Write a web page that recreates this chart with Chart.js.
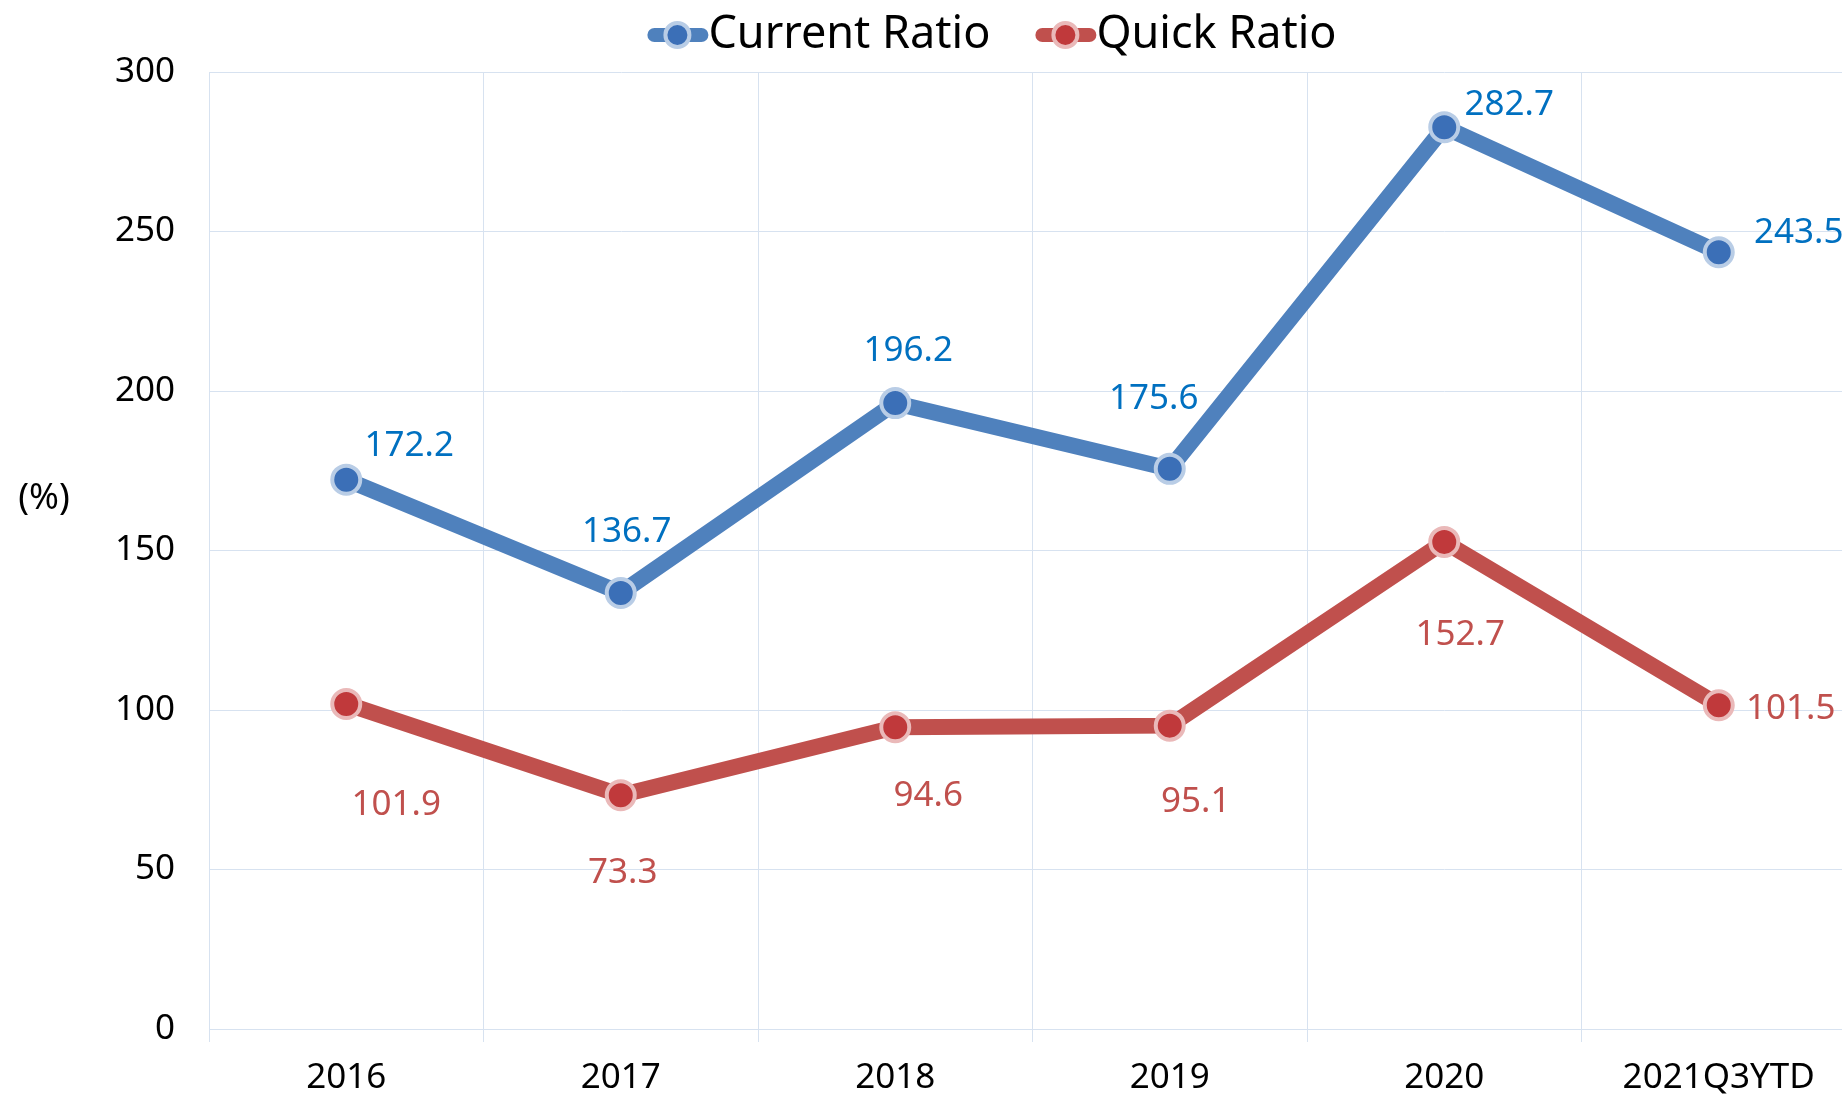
<!DOCTYPE html>
<html>
<head>
<meta charset="utf-8">
<script src="https://cdn.jsdelivr.net/npm/chart.js"></script>
<style>
    html, body {
        margin: 0;
        padding: 0;
        background: #fff;
        overflow: hidden;
    }
    .wrap {
        width: 1856px;
        height: 1097px;
    }
</style>
</head>
<body>
<div class="wrap">
    <canvas id="ratioChart" width="1856" height="1097"></canvas>
</div>
<script>
// data
const years = ["2016", "2017", "2018", "2019", "2020", "2021Q3YTD"];
const currentRatio = [172.2, 136.7, 196.2, 175.6, 282.7, 243.5];
const quickRatio = [101.9, 73.3, 94.6, 95.1, 152.7, 101.5];
const yTicks = [0, 50, 100, 150, 200, 250, 300];

const gridColor = "#d7e2f0";
const font = "'Noto Sans', 'Open Sans', sans-serif";

// where each value label sits relative to its point
const labelShift = [
    [[63, -37], [6, -64], [13, -55], [-16, -73], [65, -25], [80, -22]],
    [[50, 98], [2, 75], [33, 66], [26, 73], [16, 90], [72, 1]]
];
const labelColors = ["#0070c0", "#c0504d"];

function legendItem(ctx, x, text, line, fill, ring) {
    const y = 35;
    ctx.save();
    ctx.strokeStyle = line;
    ctx.lineWidth = 14;
    ctx.lineCap = "round";
    ctx.beginPath();
    ctx.moveTo(x + 7, y);
    ctx.lineTo(x + 54, y);
    ctx.stroke();
    ctx.beginPath();
    ctx.arc(x + 30, y, 12, 0, Math.PI * 2);
    ctx.fillStyle = fill;
    ctx.fill();
    ctx.lineWidth = 4;
    ctx.strokeStyle = ring;
    ctx.stroke();
    ctx.fillStyle = "#000";
    ctx.font = "45px " + font;
    ctx.textBaseline = "alphabetic";
    ctx.textAlign = "left";
    ctx.fillText(text, x + 61, 48);
    ctx.restore();
}

const extras = {
    id: "extras",
    afterDatasetsDraw(chart) {
        const ctx = chart.ctx;
        ctx.save();
        ctx.font = "35px " + font;
        ctx.textAlign = "center";
        ctx.textBaseline = "alphabetic";
        chart.data.datasets.forEach(function (ds, i) {
            const meta = chart.getDatasetMeta(i);
            meta.data.forEach(function (pt, j) {
                const s = labelShift[i][j];
                ctx.fillStyle = labelColors[i];
                ctx.fillText(ds.data[j].toFixed(1), pt.x + s[0], pt.y + s[1] + 13);
            });
        });
        ctx.restore();
    },
    afterDraw(chart) {
        const ctx = chart.ctx;
        ctx.save();
        ctx.font = "45px " + font;
        const w1 = ctx.measureText("Current Ratio").width;
        const w2 = ctx.measureText("Quick Ratio").width;
        const total = 61 + w1 + 45 + 61 + w2;
        const start = 992 - total / 2;
        legendItem(ctx, start, "Current Ratio", "#4f81bd", "#3b6fb7", "#b9cde6");
        legendItem(ctx, start + 61 + w1 + 45, "Quick Ratio", "#c0504d", "#c0393b", "#eab9b9");

        // axis title
        ctx.fillStyle = "#000";
        ctx.font = "36px " + font;
        ctx.textAlign = "center";
        ctx.textBaseline = "alphabetic";
        ctx.fillText("(%)", 44, 509);
        ctx.restore();
    }
};

const ctx = document.getElementById("ratioChart");

new Chart(ctx, {
    type: "line",
    data: {
        labels: years,
        datasets: [{
            label: "Current Ratio",
            data: currentRatio,
            borderColor: "#4f81bd",
            borderWidth: 16,
            pointRadius: 14,
            pointBorderWidth: 4,
            pointBackgroundColor: "#3b6fb7",
            pointBorderColor: "#b9cde6",
            tension: 0
        }, {
            label: "Quick Ratio",
            data: quickRatio,
            borderColor: "#c0504d",
            borderWidth: 16,
            pointRadius: 14,
            pointBorderWidth: 4,
            pointBackgroundColor: "#c0393b",
            pointBorderColor: "#eab9b9",
            tension: 0
        }]
    },
    options: {
        responsive: false,
        animation: false,
        events: [],
        layout: {
            autoPadding: false,
            padding: { top: 72, left: 0, right: 0, bottom: 0 }
        },
        plugins: {
            legend: { display: false },
            tooltip: { enabled: false }
        },
        scales: {
            x: {
                offset: true,
                grid: {
                    offset: true,
                    color: gridColor,
                    lineWidth: 1,
                    tickLength: 13
                },
                border: { display: true, color: gridColor },
                ticks: {
                    color: "#000",
                    font: { family: font, size: 35 },
                    padding: 15,
                    maxRotation: 0,
                    autoSkip: false
                },
                afterFit: function (scale) {
                    scale.height = 68;
                    scale.paddingLeft = 0;
                    scale.paddingRight = 0;
                }
            },
            y: {
                min: 0,
                max: 300,
                grid: {
                    color: gridColor,
                    lineWidth: 1,
                    drawTicks: false
                },
                border: { display: true, color: gridColor },
                ticks: {
                    stepSize: 50,
                    color: "#000",
                    font: { family: font, size: 35 },
                    padding: 34
                },
                afterBuildTicks: function (scale) {
                    scale.ticks = yTicks.map(function (v) { return { value: v }; });
                },
                afterFit: function (scale) {
                    scale.width = 209;
                }
            }
        }
    },
    plugins: [extras]
});
</script>
</body>
</html>
